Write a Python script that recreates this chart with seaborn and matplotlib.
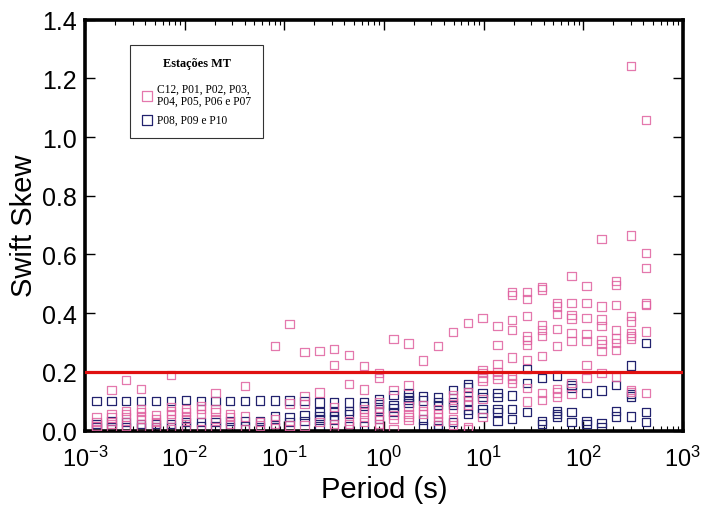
import matplotlib
matplotlib.use("Agg")
import matplotlib.pyplot as plt
from matplotlib.ticker import NullFormatter, LogLocator
import seaborn as sns
import pandas as pd

# Periods (s) of the sounding frequencies, read from the column positions
periods = [0.00131, 0.00185, 0.00260, 0.00367, 0.00517, 0.00728, 0.0103, 0.0145,
           0.0204, 0.0287, 0.0405, 0.0570, 0.0803, 0.113, 0.160, 0.225, 0.317,
           0.446, 0.629, 0.886, 1.25, 1.76, 2.48, 3.49, 4.92, 6.94, 9.78, 13.8,
           19.4, 27.4, 38.5, 54.3, 76.5, 108.0, 152.0, 214.0, 302.0, 425.0]

# Swift skew of stations C12, P01-P07 (one list per period)
skew_pink = [
    [0.044, 0.030, 0.016, 0.006],
    [0.138, 0.056, 0.044, 0.022, 0.006],
    [0.172, 0.067, 0.056, 0.045, 0.017, 0.006],
    [0.141, 0.073, 0.062, 0.050, 0.039, 0.011],
    [0.053, 0.039, 0.028, 0.006],
    [0.189, 0.079, 0.067, 0.056, 0.039, 0.006],
    [0.073, 0.062, 0.050, 0.039, 0.006],
    [0.084, 0.073, 0.056, 0.006],
    [0.127, 0.073, 0.062, 0.039, 0.006],
    [0.056, 0.045, 0.022],
    [0.152, 0.048, 0.006],
    [0.028, 0.017],
    [0.287, 0.037, 0.022],
    [0.364, 0.092, 0.017, 0.006],
    [0.267, 0.118, 0.090, 0.017],
    [0.272, 0.129, 0.028],
    [0.278, 0.224, 0.079, 0.022, 0.011],
    [0.258, 0.159, 0.033, 0.022],
    [0.219, 0.140, 0.073, 0.062, 0.045, 0.028],
    [0.196, 0.178, 0.096, 0.062, 0.050, 0.022, 0.011],
    [0.312, 0.139, 0.053, 0.039, 0.005],
    [0.297, 0.153, 0.082, 0.056, 0.045, 0.036],
    [0.238, 0.085, 0.067, 0.056],
    [0.287, 0.073, 0.056, 0.045, 0.033],
    [0.335, 0.119, 0.110, 0.075, 0.037, 0.019],
    [0.366, 0.130, 0.119, 0.087, 0.011, 0.003],
    [0.384, 0.206, 0.196, 0.181, 0.170, 0.107, 0.046],
    [0.357, 0.291, 0.227, 0.200, 0.189, 0.175],
    [0.471, 0.462, 0.376, 0.343, 0.249, 0.185, 0.175, 0.161],
    [0.473, 0.448, 0.391, 0.320, 0.308, 0.292, 0.240, 0.144, 0.099],
    [0.488, 0.480, 0.359, 0.343, 0.321, 0.253, 0.128, 0.103],
    [0.434, 0.423, 0.397, 0.346, 0.287, 0.141, 0.130, 0.116],
    [0.527, 0.434, 0.393, 0.382, 0.332, 0.306, 0.162, 0.124],
    [0.493, 0.434, 0.383, 0.329, 0.306, 0.224, 0.178],
    [0.652, 0.423, 0.378, 0.355, 0.309, 0.295, 0.272, 0.196],
    [0.510, 0.496, 0.428, 0.343, 0.314, 0.298, 0.275, 0.183],
    [1.241, 0.664, 0.391, 0.371, 0.332, 0.321, 0.314, 0.139, 0.132],
    [1.058, 0.605, 0.553, 0.433, 0.428, 0.337, 0.128],
]

# Swift skew of stations P08, P09, P10
skew_navy = [
    [0.100, 0.022, 0.011],
    [0.100, 0.033, 0.011],
    [0.100, 0.028, 0.012],
    [0.100, 0.022, 0.010],
    [0.100, 0.022, 0.011],
    [0.100, 0.022, 0.012],
    [0.104, 0.030, 0.014],
    [0.100, 0.028, 0.016],
    [0.100, 0.028, 0.016],
    [0.100, 0.033, 0.011],
    [0.100, 0.033, 0.015],
    [0.102, 0.033, 0.011],
    [0.102, 0.048, 0.011],
    [0.102, 0.046, 0.028],
    [0.100, 0.053, 0.033],
    [0.096, 0.062, 0.050, 0.037, 0.016],
    [0.096, 0.062, 0.050, 0.037],
    [0.096, 0.067, 0.056, 0.016],
    [0.096, 0.084, 0.016],
    [0.108, 0.090, 0.073, 0.039],
    [0.121, 0.087, 0.076, 0.064],
    [0.127, 0.115, 0.104, 0.093],
    [0.116, 0.102, 0.037, 0.016],
    [0.113, 0.098, 0.087, 0.019, 0.007],
    [0.139, 0.098, 0.087, 0.028],
    [0.158, 0.147, 0.102, 0.071, 0.056],
    [0.127, 0.115, 0.073, 0.060],
    [0.127, 0.115, 0.073, 0.062, 0.033],
    [0.119, 0.073, 0.039],
    [0.210, 0.162, 0.062],
    [0.178, 0.033, 0.022],
    [0.187, 0.067, 0.056, 0.048],
    [0.155, 0.144, 0.062, 0.030],
    [0.127, 0.033, 0.022],
    [0.136, 0.026, 0.011],
    [0.155, 0.067, 0.048],
    [0.221, 0.124, 0.116, 0.048],
    [0.298, 0.064, 0.028],
]

label_pink = "C12, P01, P02, P03,\nP04, P05, P06 e P07"
label_navy = "P08, P09 e P10"
legend_title = "Estações MT"
threshold = 0.2
xtick_vals = [1e-3, 1e-2, 1e-1, 1e0, 1e1, 1e2, 1e3]
xtick_labels = [r"$10^{-3}$", r"$10^{-2}$", r"$10^{-1}$", r"$10^{0}$",
                r"$10^{1}$", r"$10^{2}$", r"$10^{3}$"]
ytick_vals = [0.0, 0.2, 0.4, 0.6, 0.8, 1.0, 1.2, 1.4]
ytick_labels = ["0.0", "0.2", "0.4", "0.6", "0.8", "1.0", "1.2", "1.4"]

def to_frame(values):
    rows = []
    for p, vals in zip(periods, values):
        for v in vals:
            rows.append({"period": p, "skew": v})
    return pd.DataFrame(rows)

df_pink = to_frame(skew_pink)
df_navy = to_frame(skew_navy)

sns.set_theme(style="ticks")
plt.rcParams["font.family"] = ["Liberation Sans", "DejaVu Sans"]
plt.rcParams["mathtext.fontset"] = "custom"
plt.rcParams["mathtext.rm"] = "Liberation Sans"
plt.rcParams["mathtext.it"] = "Liberation Sans:italic"
plt.rcParams["mathtext.bf"] = "Liberation Sans:bold"
plt.rcParams["text.color"] = "black"
plt.rcParams["axes.labelcolor"] = "black"
plt.rcParams["xtick.color"] = "black"
plt.rcParams["ytick.color"] = "black"

fig = plt.figure(figsize=(7.04, 5.06), dpi=100)
ax = fig.add_axes([0.1207, 0.1472, 0.8493, 0.8121])

pink = "#e0609f"
navy = "#22226e"

sns.scatterplot(data=df_pink, x="period", y="skew", marker="s", s=36,
                facecolor="none", edgecolor=pink, linewidth=0.9, alpha=0.85,
                label=label_pink, ax=ax, zorder=3)
sns.scatterplot(data=df_navy, x="period", y="skew", marker="s", s=36,
                facecolor="none", edgecolor=navy, linewidth=0.9,
                label=label_navy, ax=ax, zorder=2)

ax.axhline(threshold, color="#e01010", lw=2.3, zorder=4)

ax.set_xscale("log")
ax.set_xlim(1e-3, 1e3)
ax.set_ylim(0, 1.4)
ax.set_xticks(xtick_vals)
ax.set_xticklabels(xtick_labels)
ax.xaxis.set_minor_locator(LogLocator(base=10, subs=range(2, 10), numticks=20))
ax.xaxis.set_minor_formatter(NullFormatter())
ax.set_yticks(ytick_vals)
ax.set_yticklabels(ytick_labels)

ax.set_xlabel("Period (s)", fontsize=21, labelpad=3)
ax.set_ylabel("Swift Skew", fontsize=21, labelpad=3)

for s in ax.spines.values():
    s.set_linewidth(2.6)
    s.set_color("black")
ax.tick_params(which="both", direction="in", top=True, right=True)
ax.tick_params(which="major", length=7, width=1.0, labelsize=18)
ax.tick_params(axis="y", which="major", pad=6)
ax.tick_params(axis="x", which="major", pad=11, labelsize=17)
ax.tick_params(which="minor", length=3.5, width=0.8)

leg = ax.legend(loc="upper left", bbox_to_anchor=(0.076, 0.938),
                title=legend_title, frameon=True, fancybox=False,
                edgecolor="black", handlelength=0.8, handletextpad=0.5,
                borderpad=1.0, labelspacing=0.6, markerscale=1.2,
                borderaxespad=0.0,
                prop={"family": "Liberation Serif", "size": 8.3})
leg.get_title().set_fontfamily("Liberation Serif")
leg.get_title().set_fontweight("bold")
leg.get_title().set_fontsize(8.8)
for t in leg.get_texts():
    t.set_linespacing(1.08)
leg._legend_box.sep = 10
leg.get_frame().set_linewidth(0.8)

fig.savefig("out.png", dpi=100, facecolor="white")
